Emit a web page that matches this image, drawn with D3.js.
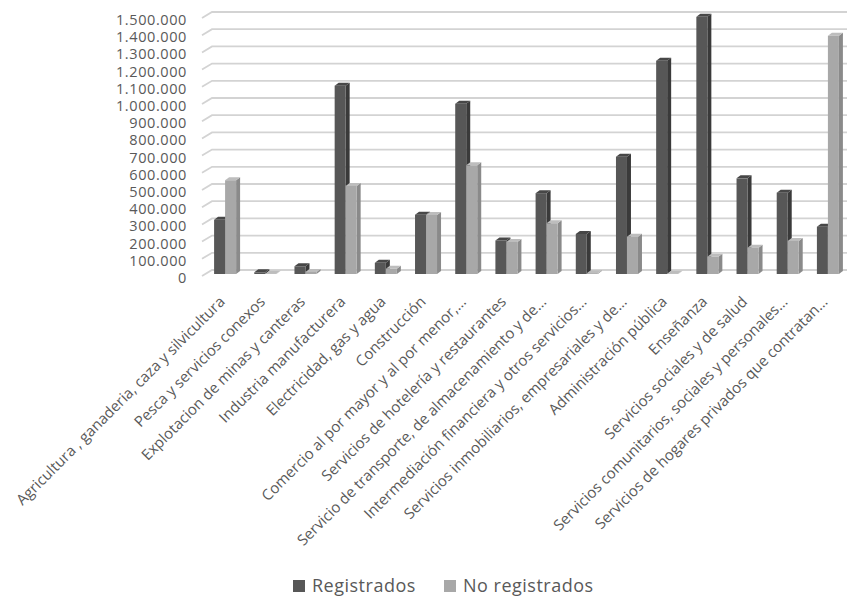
<!DOCTYPE html>
<html><head><meta charset="utf-8">
<script src="https://cdn.jsdelivr.net/npm/d3@7"></script>
<style>body{margin:0;background:#fff}svg{display:block}text{font-family:"Open Sans",sans-serif;fill:#595959}</style>
</head><body>
<svg id="c" width="849" height="599"></svg>
<script>
const categories = [
  "Agricultura , ganaderia, caza y silvicultura",
  "Pesca y servicios conexos",
  "Explotacion de minas y canteras",
  "Industria manufacturera",
  "Electricidad, gas y agua",
  "Construcción",
  "Comercio al por mayor y al por menor,…",
  "Servicios de hotelería y restaurantes",
  "Servicio de transporte, de almacenamiento y de…",
  "Intermediación financiera y otros servicios…",
  "Servicios inmobiliarios, empresariales y de…",
  "Administración pública",
  "Enseñanza",
  "Servicios sociales y de salud",
  "Servicios comunitarios, sociales y personales…",
  "Servicios de hogares privados que contratan…"
];
const registrados = [315000, 10000, 45000, 1095000, 65000, 345000, 990000, 195000, 470000, 233000, 682000, 1240000, 1495000, 556000, 473000, 275000];
const noRegistrados = [545000, 2000, 12000, 512000, 30000, 343000, 632000, 186000, 295000, 5000, 217000, 2000, 100000, 153000, 192000, 1385000];
const seriesNames = ["Registrados", "No registrados"];
const yTicks = [0,100000,200000,300000,400000,500000,600000,700000,800000,900000,1000000,1100000,1200000,1300000,1400000,1500000];

const svg = d3.select("#c");
const x = d3.scaleBand().domain(categories).range([205, 848]).paddingInner(0);
const y = d3.scaleLinear().domain([0, 1500000]).range([274, 16]);
const fmt = v => d3.format(",")(v).replace(/,/g, ".");

// back wall gridlines with left side-wall diagonal
const grid = svg.append("g");
yTicks.forEach(v => {
  const yy = y(v) - 4;
  grid.append("path")
    .attr("d", `M202,${yy + 6}L212,${yy}L847,${yy}`)
    .attr("fill", "none").attr("stroke", "#d3d3d3").attr("stroke-width", 1.8);
});

// y labels
svg.append("g").selectAll("text").data(yTicks).join("text")
  .attr("x", 187).attr("y", d => y(d) + 4)
  .attr("dy", "0.35em").attr("text-anchor", "end")
  .style("font-size", "14.5px").style("letter-spacing", "0.6px").text(fmt);

// 3D bars
const bw = 11, dx = 4, dy = -3;
const colors = [
  {front: "#575757", side: "#3a3a3a", top: "#474747"},
  {front: "#a8a8a8", side: "#8a8a8a", top: "#bdbdbd"}
];
const bars = svg.append("g");
categories.forEach((c, i) => {
  const cx = x(c) + x.bandwidth() / 2;
  [registrados[i], noRegistrados[i]].forEach((v, s) => {
    const x0 = s === 0 ? cx - bw : cx;
    const x1 = x0 + bw;
    const y0 = y(0), y1 = y(v);
    const col = colors[s];
    const g = bars.append("g");
    g.append("path").attr("d", `M${x1},${y0}L${x1 + dx},${y0 + dy}L${x1 + dx},${y1 + dy}L${x1},${y1}Z`).attr("fill", col.side);
    g.append("path").attr("d", `M${x0},${y1}L${x1},${y1}L${x1 + dx},${y1 + dy}L${x0 + dx},${y1 + dy}Z`).attr("fill", col.top);
    g.append("rect").attr("x", x0).attr("y", y1).attr("width", bw).attr("height", y0 - y1).attr("fill", col.front);
  });
});

// x labels
svg.append("g").selectAll("text").data(categories).join("text")
  .attr("transform", d => `translate(${x(d) + x.bandwidth() / 2 - 3},${299}) rotate(-45)`)
  .attr("text-anchor", "end").attr("dy", "0.35em")
  .style("font-size", "15px").text(d => d);

// legend
const legend = svg.append("g");
const lx = [293, 444];
seriesNames.forEach((n, s) => {
  legend.append("rect").attr("x", lx[s]).attr("y", 580).attr("width", 12).attr("height", 12).attr("fill", colors[s].front);
  legend.append("text").attr("x", lx[s] + 19).attr("y", 586).attr("dy", "0.35em")
    .style("font-size", "18px").style("letter-spacing", "0.5px").text(n);
});
</script>
</body></html>
